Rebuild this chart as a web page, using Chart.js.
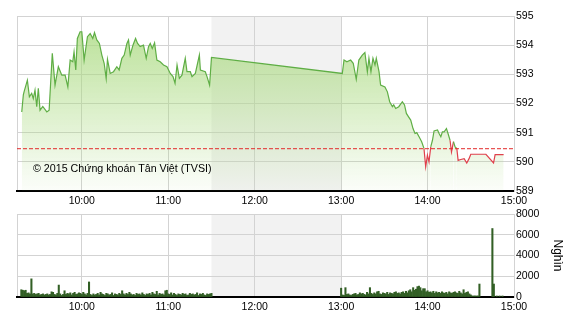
<!DOCTYPE html>
<html>
<head>
  <meta charset="utf-8">
  <title>VN-Index trong phiên</title>
  <script src="https://cdn.jsdelivr.net/npm/chart.js@4"></script>
  <style>
      body { margin: 0; background: #fff; }
      #wrap { position: relative; width: 570px; height: 320px; }
      #wrap canvas { position: absolute; left: 0; top: 0; }
      .copy {
          position: absolute;
          left: 33px;
          top: 162px;
          font: 10.7px Arial, "Liberation Sans", sans-serif;
          color: #000;
          white-space: nowrap;
      }
  </style>
</head>
<body>
<div id="wrap">
  <canvas id="priceChart" width="570" height="320"></canvas>
  <canvas id="volChart" width="570" height="320"></canvas>
  <div class="copy">© 2015 Chứng khoán Tân Việt (TVSI)</div>
</div>
<script>
  // times are minutes after midnight (600 = 10:00)
  const xTicks = [555, 600, 660, 720, 780, 840, 900];
  const lunchBreak = [690, 780];
  const refPrice = 590.45;

  const priceTimes = [558.3, 559.4, 559.9, 562.2, 563.6, 565.2, 566.3, 567.5, 568.7, 569.8,
      571, 572.9, 575.7, 577.3, 579.5, 581.4, 583.7, 586.1, 588.4, 590.3,
      591.9, 593.7, 594.6, 595.8, 596.9, 598.8, 600, 601.6, 603.9, 605.8,
      607.6, 608.8, 610.4, 612.2, 613.9, 615.5, 616.9, 617.8, 619.7, 622,
      624.3, 625.9, 627.8, 629.4, 631.3, 632.4, 633.6, 635.5, 637.3, 638.7,
      640.5, 642.8, 644.7, 646.3, 647.5, 648.9, 650.5, 652.1, 654.4, 656.7,
      659.1, 661.4, 663.3, 664.7, 666.1, 667.7, 669.5, 671.8, 673, 675.3,
      676.5, 678.8, 681.6, 682.3, 685.7, 686.9, 688.7, 690, 780.8, 782,
      784, 786.6, 788.4, 790.5, 792.3, 794.7, 796.5, 798.2, 799.3, 800.7,
      802.1, 803.5, 804.4, 806.3, 807.4, 810.4, 812.1, 813.7, 815.6, 816.5,
      817.9, 820, 822.5, 824, 825.3, 826.7, 828.3, 829.9, 831.3, 832.5,
      834.1, 835.9, 837.5, 838.7, 839.9, 841, 842.2, 843.4, 844.5, 846.9,
      848, 849.2, 850.3, 851.5, 853.1, 854.2, 855.6, 856.6, 858, 859.1,
      860.3, 861.2, 863.1, 865.4, 867.2, 868.8, 870, 880.5, 885.8, 886.9,
      892.8];
  const priceValues = [591.71, 592.30, 592.40, 592.80, 592.23, 592.35, 592.17, 592.46, 591.89, 592.52,
      591.77, 591.90, 591.71, 591.77, 593.72, 592.63, 593.26, 592.97, 592.97, 592.57,
      593.49, 593.43, 593.77, 593.15, 594.23, 594.46, 594.46, 593.49, 594.29, 594.40,
      594.23, 594.43, 594.18, 594.06, 593.66, 593.38, 592.86, 593.51, 593.03, 593.09,
      593.26, 593.15, 593.55, 593.66, 594.06, 594.18, 593.66, 594.00, 594.23, 594.06,
      593.95, 594.00, 593.55, 593.95, 594.06, 593.89, 594.08, 593.49, 593.43, 593.32,
      593.26, 593.03, 592.92, 592.69, 593.32, 592.86, 592.97, 593.55, 593.09, 593.09,
      592.92, 593.03, 593.66, 593.15, 593.09, 592.92, 592.63, 593.58, 593.03, 593.49,
      593.43, 593.49, 593.38, 592.83, 593.49, 593.66, 593.75, 593.09, 593.55, 593.09,
      593.55, 593.32, 593.55, 593.09, 592.63, 592.57, 592.40, 592.06, 591.89, 591.95,
      591.83, 591.89, 592.06, 591.95, 591.66, 591.55, 591.43, 591.14, 590.97, 591.00,
      590.86, 590.69, 590.46, 589.83, 590.23, 590.00, 590.51, 590.74, 591.06, 591.09,
      590.97, 590.86, 591.03, 591.03, 591.14, 590.97, 590.74, 590.34, 590.69, 590.51,
      590.46, 590.05, 590.08, 590.11, 589.96, 590.11, 590.26, 590.26, 589.96, 590.25,
      590.25];

  // volume in thousands, one bar a minute
  const volMorningStart = 558;
  const volMorning = [700, 650, 600, 650, 350, 400, 300, 1750, 300, 350,
      250, 300, 350, 200, 250, 300, 200, 250, 300, 200,
      250, 500, 450, 250, 200, 350, 1150, 300, 150, 250,
      600, 250, 350, 300, 400, 200, 350, 450, 250, 300,
      400, 350, 250, 450, 300, 200, 350, 1450, 250, 150,
      300, 200, 250, 350, 200, 450, 300, 250, 150, 350,
      300, 200, 250, 400, 150, 300, 250, 200, 350, 250,
      600, 300, 200, 350, 250, 450, 300, 200, 250, 150,
      350, 250, 300, 200, 400, 250, 150, 300, 250, 350,
      200, 450, 300, 250, 550, 200, 350, 250, 300, 200,
      600, 650, 300, 250, 400, 200, 350, 250, 150, 300,
      250, 200, 350, 250, 300, 150, 200, 350, 250, 300,
      200, 250, 400, 150, 300, 250, 350, 200, 150, 300,
      250, 300, 350];
  const volAfternoonStart = 780;
  const volAfternoon = [850, 200, 150, 900, 250, 300, 200, 150, 250, 300,
      350, 200, 250, 400, 300, 350, 250, 200, 450, 300,
      900, 350, 250, 400, 300, 500, 550, 300, 250, 400,
      350, 300, 450, 250, 400, 350, 300, 450, 500, 350,
      400, 300, 450, 500, 350, 550, 400, 600, 700, 500,
      900, 650, 750, 1000, 1050, 900, 600, 800, 800, 500,
      600, 450, 500, 400, 550, 350, 500, 400, 450, 350,
      500, 400, 350, 450, 300, 500, 400, 350, 450, 500,
      400, 350, 550, 400, 300, 700, 350, 450, 500, 300,
      200, 100, 100, 100, 100, 100, 1250];
  const volCloseTimes = [885, 886, 888, 890, 892];
  const volClose = [6600, 1250, 100, 100, 100];

  const GRID = '#d3d3d3';
  const GREEN = '#5fae45';
  const RED = '#e0404c';
  const AXIS_FONT = { family: '"Liberation Sans Narrow", "Arial Narrow", Arial, sans-serif', size: 10.5 };

  function hourLabel(v) {
      return v % 60 ? '' : (v / 60) + ':00';
  }
  function hourTicks(scale) {
      scale.ticks = xTicks.map(v => ({ value: v }));
  }

  const lunchShade = {
      id: 'lunchShade',
      beforeDraw(chart) {
          const { ctx, chartArea: a, scales: { x } } = chart;
          const x0 = x.getPixelForValue(lunchBreak[0]);
          const x1 = x.getPixelForValue(lunchBreak[1]);
          ctx.save();
          ctx.fillStyle = '#f2f2f2';
          ctx.fillRect(x0, a.top, x1 - x0, a.bottom - a.top);
          ctx.restore();
      }
  };

  function xScale() {
      return {
          type: 'linear',
          min: 555,
          max: 900,
          offset: false,
          afterBuildTicks: hourTicks,
          afterFit: s => { s.height = 20; },
          grid: { color: GRID, drawTicks: false, offset: false },
          border: { color: '#000', width: 2 },
          ticks: { font: AXIS_FONT, color: '#000', padding: 4, maxRotation: 0, autoSkip: false,
                   callback: hourLabel }
      };
  }

  const pricePoints = priceTimes.map((t, i) => ({ x: t, y: priceValues[i] }));

  new Chart(document.getElementById('priceChart'), {
      type: 'line',
      data: {
          datasets: [
              {
                  data: [{ x: 555, y: refPrice }, { x: 900, y: refPrice }],
                  borderColor: '#e32a2a',
                  borderWidth: 1,
                  borderDash: [4, 2],
                  pointRadius: 0,
                  fill: false,
                  order: 0
              },
              {
                  data: pricePoints,
                  borderWidth: 1.2,
                  pointRadius: 0,
                  tension: 0,
                  fill: 'start',
                  order: 1,
                  borderColor: GREEN,
                  segment: {
                      borderColor: c => (c.p0.parsed.y < refPrice || c.p1.parsed.y < refPrice) ? RED : GREEN
                  },
                  backgroundColor: c => {
                      const a = c.chart.chartArea;
                      if (!a) return 'rgba(176,221,135,0.4)';
                      const g = c.chart.ctx.createLinearGradient(0, a.top, 0, a.bottom);
                      g.addColorStop(0, 'rgba(170,218,128,0.85)');
                      g.addColorStop(1, 'rgba(170,218,128,0.04)');
                      return g;
                  }
              }
          ]
      },
      options: {
          responsive: false,
          animation: false,
          events: [],
          layout: { padding: { left: 17, top: 16, right: 0, bottom: 109 } },
          plugins: { legend: { display: false }, tooltip: { enabled: false } },
          scales: {
              x: xScale(),
              y: {
                  position: 'right',
                  min: 589,
                  max: 595,
                  afterFit: s => { s.width = 56; },
                  grid: { color: GRID, drawTicks: false },
                  border: { color: GRID },
                  ticks: { stepSize: 1, font: AXIS_FONT, color: '#000', padding: 2 }
              }
          }
      },
      plugins: [lunchShade]
  });

  const volPoints = volMorning.map((v, i) => ({ x: volMorningStart + i, y: v }))
      .concat(volAfternoon.map((v, i) => ({ x: volAfternoonStart + i, y: v })))
      .concat(volCloseTimes.map((t, i) => ({ x: t, y: volClose[i] })));

  new Chart(document.getElementById('volChart'), {
      type: 'bar',
      data: {
          datasets: [{
              data: volPoints,
              backgroundColor: '#325f25',
              barThickness: 1.4
          }]
      },
      options: {
          responsive: false,
          animation: false,
          events: [],
          layout: { padding: { left: 17, top: 214, right: 0, bottom: 3 } },
          plugins: { legend: { display: false }, tooltip: { enabled: false } },
          scales: {
              x: xScale(),
              y: {
                  position: 'right',
                  min: 0,
                  max: 8000,
                  afterFit: s => { s.width = 56; },
                  grid: { color: GRID, drawTicks: false },
                  border: { color: GRID },
                  ticks: { stepSize: 2000, font: AXIS_FONT, color: '#000', padding: 2,
                           callback: v => String(v) },
                  title: {
                      display: true,
                      text: 'Nghìn',
                      color: '#000',
                      font: { family: 'Arial, "Liberation Sans", sans-serif', size: 12 },
                      padding: { top: 5, bottom: 0 }
                  }
              }
          }
      },
      plugins: [lunchShade]
  });
</script>
</body>
</html>
